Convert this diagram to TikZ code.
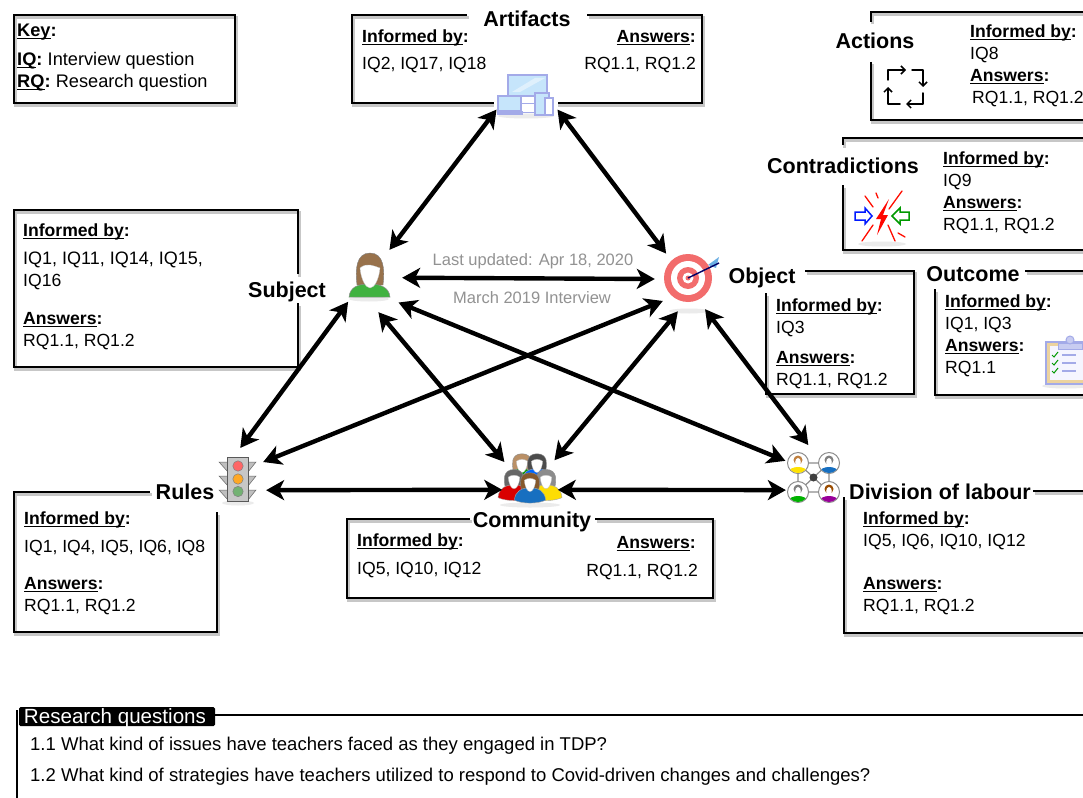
\documentclass[tikz,border=0pt]{standalone}
\usepackage{fontspec}
\setmainfont{Liberation Sans}
\usetikzlibrary{arrows.meta}
\definecolor{gtxt}{HTML}{929292}
\definecolor{devfill}{HTML}{C6E5FB}
\definecolor{devline}{HTML}{A3AAE8}
\definecolor{tgt}{HTML}{F26C6C}
\newcommand{\ub}[1]{\underline{\smash{\textbf{#1}}}}
\newcommand{\infby}{\ub{Informed by}\textbf{:}}
\newcommand{\answ}{\ub{Answers}\textbf{:}}
\newcommand{\personicon}[5]{% x y scale hair body
  \begin{scope}[shift={(#1,#2)},x=#3pt,y=-#3pt]
    \fill[#4,draw=black!45,line width=.4pt] (0,-9) .. controls (-9,-9) and (-8,0) .. (-7,4) -- (7,4) .. controls (8,0) and (9,-9) .. (0,-9) -- cycle;
    \fill[#5,draw=black!35,line width=.4pt] (-12.5,13) .. controls (-12,6) and (-7,3) .. (0,3) .. controls (7,3) and (12,6) .. (12.5,13) .. controls (6,16) and (-6,16) .. (-12.5,13) -- cycle;
    \fill[white,draw=black!25,line width=.3pt] (-4.5,-3) .. controls (-4,3) and (-2,6) .. (0,6) .. controls (2,6) and (4,3) .. (4.5,-3) .. controls (2,-5) and (-2,-5) .. (-4.5,-3) -- cycle;
  \end{scope}}
\tikzset{
  x=1pt,y=-1pt,
  boxline/.style={line width=2.6pt,line join=miter,preaction={draw=black,opacity=.22,line width=3pt,transform canvas={shift={(1.5pt,-2.5pt)}}}},
  txt/.style={anchor=west,inner sep=0pt,text height=15.6pt,text depth=2.6pt,font=\fontsize{17.6}{20}\selectfont},
  txtr/.style={txt,anchor=east},
  keytxt/.style={txt,font=\fontsize{18.2}{20}\selectfont},
  rqtxt/.style={txt,font=\fontsize{18.5}{20}\selectfont},
  ttl/.style={inner sep=0pt,font=\fontsize{21.5}{24}\selectfont\bfseries,text height=17pt,text depth=1pt},
  note/.style={inner sep=0pt,text=gtxt,font=\fontsize{16.5}{19}\selectfont},
  hub/.style={circle,inner sep=0pt,minimum size=#1,draw=none},
  link/.style={line width=4.4pt,{Stealth[length=18pt,width=20pt,inset=5pt]}-{Stealth[length=18pt,width=20pt,inset=5pt]}},
  iconline/.style={line width=1.5pt,line cap=round,line join=round},
  halo/.style={black!8}
}
\begin{document}
\begin{tikzpicture}
\useasboundingbox (0,0) rectangle (1083,797);
\fill[white] (0,0) rectangle (1083,797);

% ---- boxes
\draw[boxline] (14,15) rectangle (235,103);
\draw[boxline] (467,15) -- (352,15) -- (352,103) -- (702,103) -- (702,15) -- (587,15);
\draw[boxline] (871,22) -- (871,12) -- (1090,12);
\draw[boxline] (871,62) -- (871,120) -- (1090,120);
\draw[boxline] (843,145) -- (843,138) -- (1090,138);
\draw[boxline] (843,185) -- (843,250) -- (1090,250);
\draw[boxline] (298,274) -- (298,210) -- (14,210) -- (14,367) -- (298,367) -- (298,303);
\draw[boxline] (805,271) -- (914,271) -- (914,394) -- (766,394) -- (766,293);
\draw[boxline] (1025,271) -- (1090,271);
\draw[boxline] (935,289) -- (935,395) -- (1090,395);
\draw[boxline] (150,492) -- (14,492) -- (14,632) -- (217,632) -- (217,512);
\draw[boxline] (470,519) -- (347,519) -- (347,598) -- (713,598) -- (713,519) -- (595,519);
\draw[boxline] (844,497) -- (844,633) -- (1090,633);
\draw[boxline] (1033,491) -- (1090,491);
\draw[line width=2pt] (17,710) -- (17,800);
\draw[line width=2pt] (200,714.5) -- (1090,714.5);

% ---- key
\node[keytxt] (keyA) at (17,30) {\ub{Key}\textbf{:}};
\node[keytxt] (keyB) at (17,59) {\ub{IQ}\textbf{:}\hspace{-1.5pt} Interview question};
\node[keytxt] (keyC) at (17,81) {\ub{RQ}\textbf{:}\hspace{-1.5pt} Research question};

% ---- artifacts
\node[ttl] (tArt) at (527,19) {Artifacts};
\node[txt] (artA) at (362,36) {\infby};
\node[txt] (artB) at (362,63) {IQ2, IQ17, IQ18};
\node[txtr] (artC) at (696,36) {\answ};
\node[txtr] (artD) at (696,63) {RQ1.1, RQ1.2};

% ---- actions
\node[ttl] (tAct) at (875,41) {Actions};
\node[txt] (actA) at (970,31) {\infby};
\node[txt] (actB) at (970,53) {IQ8};
\node[txt] (actC) at (970,75) {\answ};
\node[txt] (actD) at (972,97) {RQ1.1, RQ1.2};

% ---- contradictions
\node[ttl] (tCon) at (843,165) {Contradictions};
\node[txt] (conA) at (943,158) {\infby};
\node[txt] (conB) at (943,180) {IQ9};
\node[txt] (conC) at (943,202) {\answ};
\node[txt] (conD) at (943,224) {RQ1.1, RQ1.2};

% ---- subject
\node[ttl,fill=white,inner xsep=2pt] (tSub) at (287,289) {Subject};
\node[txt] (subA) at (23,230) {\infby};
\node[txt,font=\fontsize{18}{20}\selectfont] (subB) at (23,258) {IQ1, IQ11, IQ14, IQ15,};
\node[txt] (subC) at (23,280) {IQ16};
\node[txt] (subD) at (23,318) {\answ};
\node[txt] (subE) at (23,340) {RQ1.1, RQ1.2};

% ---- object
\node[ttl] (tObj) at (762,275) {Object};
\node[txt] (objA) at (776,305) {\infby};
\node[txt] (objB) at (776,327) {IQ3};
\node[txt] (objC) at (776,357) {\answ};
\node[txt] (objD) at (776,379) {RQ1.1, RQ1.2};

% ---- outcome
\node[ttl] (tOut) at (973,273) {Outcome};
\node[txt] (outA) at (945,301) {\infby};
\node[txt] (outB) at (945,323) {IQ1, IQ3};
\node[txt] (outC) at (945,345) {\answ};
\node[txt] (outD) at (945,367) {RQ1.1};

% ---- rules
\node[ttl] (tRul) at (185,491) {Rules};
\node[txt] (rulA) at (24,518) {\infby};
\node[txt] (rulB) at (24,546) {IQ1, IQ4, IQ5, IQ6, IQ8};
\node[txt] (rulC) at (24,583) {\answ};
\node[txt] (rulD) at (24,605) {RQ1.1, RQ1.2};

% ---- community
\node[ttl] (tCom) at (532,519) {Community};
\node[txt] (comA) at (357,540) {\infby};
\node[txt] (comB) at (357,568) {IQ5, IQ10, IQ12};
\node[txtr] (comC) at (696,542) {\answ};
\node[txtr] (comD) at (698,570) {RQ1.1, RQ1.2};

% ---- division
\node[ttl] (tDiv) at (940,491) {Division of labour};
\node[txt] (divA) at (863,518) {\infby};
\node[txt] (divB) at (863,540) {IQ5, IQ6, IQ10, IQ12};
\node[txt] (divC) at (863,583) {\answ};
\node[txt] (divD) at (863,605) {RQ1.1, RQ1.2};

% ---- notes
\node[note] (noteA) at (533,261) {Last updated: Apr 18, 2020};
\node[note] (noteB) at (532,298) {March 2019 Interview};

% ---- research questions
\node[fill=black,text=white,rounded corners=1.5pt,inner sep=0pt,minimum width=196pt,minimum height=19pt,text height=15pt,text depth=2pt,font=\fontsize{20.6}{22}\selectfont] (rqT) at (117,716.5) {Research questions\hspace*{4pt}};
\node[rqtxt] (rqA) at (30,744) {1.1 What kind of issues have teachers faced as they engaged in TDP?};
\node[rqtxt] (rqB) at (30,775) {1.2 What kind of strategies have teachers utilized to respond to Covid-driven changes and challenges?};

% ---- icon: devices
\fill[white] (494,72) rectangle (558,119);
\fill[halo] (526,116) ellipse (28 and 2.5);
\draw[devline,fill=devfill,line width=1.2pt] (508,75) rectangle (547,96);
\draw[devline,fill=white,line width=1pt] (521,104) rectangle (536,113);
\draw[devline,fill=devfill,line width=1.2pt] (498,96) rectangle (521,111);
\draw[devline,fill=devline,line width=.8pt] (497,111) rectangle (522,114);
\draw[devline,fill=devfill,line width=1.2pt] (535,93) rectangle (549,115);
\draw[devline,fill=white,line width=1.2pt] (545,98) rectangle (553,115);
\fill[white,opacity=.45] (512,92) -- (535,78) -- (545,78) -- (520,92) -- cycle;

% ---- icon: woman
\fill[halo] (369,299) ellipse (20 and 2.5);
\fill[brown!70!black!85!white,draw=black!50,line width=.4pt] (370,253) .. controls (356,253) and (355,270) .. (357,285) -- (383,285) .. controls (385,270) and (384,253) .. (370,253) -- cycle;
\fill[green!60!black!75!white,draw=black!45,line width=.5pt] (349,297) .. controls (350,287) and (358,284) .. (369,284) .. controls (380,284) and (389,287) .. (390,297) -- cycle;
\fill[white,draw=black!25,line width=.3pt] (360,268) .. controls (361,280) and (366,288) .. (370,288) .. controls (374,288) and (379,280) .. (380,268) .. controls (374,266) and (367,262) .. (360,268) -- cycle;

% ---- icon: target
\fill[halo] (689,311) ellipse (20 and 2.5);
\fill[tgt] (688,278) circle (24);
\fill[white] (688,278) circle (17);
\fill[tgt] (688,278) circle (11);
\fill[white] (688,278) circle (5.5);
\fill[tgt] (688,278) circle (2.5);
\fill[cyan!70!blue!60!white] (708,265) -- (719,257) -- (716,268) -- cycle;
\draw[blue!40!black,line width=1.4pt] (688,278) -- (719,263);

% ---- icon: traffic light
\fill[halo] (238,503) ellipse (16 and 2.5);
\foreach \yy in {462,476,490}{
  \fill[black!25,draw=black!60,line width=.5pt] (228,\yy) -- (219,\yy) -- (228,\yy+10) -- cycle;
  \fill[black!25,draw=black!60,line width=.5pt] (248,\yy) -- (256,\yy) -- (248,\yy+10) -- cycle;
}
\fill[black!22,draw=black!65,line width=.8pt] (227,457) rectangle (248,501);
\fill[red!60!white,draw=black!50,line width=.5pt] (238,466) circle (5.2);
\fill[orange!80!yellow!85!white,draw=black!50,line width=.5pt] (238,479) circle (5.2);
\fill[green!45!black!55!white,draw=black!50,line width=.5pt] (238,491.5) circle (5.2);

% ---- icon: community
\fill[halo] (530,505) ellipse (30 and 2.5);
\personicon{522}{465}{1.25}{orange!55!black!60!white}{green!60!black}
\personicon{537}{465}{1.25}{black!70}{blue!60!cyan}
\personicon{514}{481}{1.28}{black!60}{red!85!black}
\personicon{546}{481}{1.28}{black!45}{yellow!80!orange}
\personicon{530}{484}{1.25}{brown!70!black}{cyan!50!blue}

% ---- icon: division of labour
\draw[black!45,line width=1.2pt] (798,463) -- (829,463) -- (829,492) -- (798,492) -- cycle (798,463) -- (829,492) (829,463) -- (798,492);
\fill[black!75] (813.5,477.5) circle (4);
\begin{scope}
\foreach \cx/\cy/\hc/\bc in {798/463/brown/yellow!85!orange,829/463/black!50/cyan!50!blue,798/492/black!50/green!70!black,829/492/orange!60!black/violet!80!magenta}{
  \draw[black!45,fill=white,line width=1pt] (\cx,\cy) circle (10.5);
  \begin{scope}
    \clip (\cx,\cy) circle (10);
    \fill[\bc] (\cx-10,\cy+10) .. controls (\cx-9,\cy+2) and (\cx+9,\cy+2) .. (\cx+10,\cy+10) -- cycle;
    \fill[\hc] (\cx,\cy-3) circle (4.5);
    \fill[white] (\cx,\cy-1) ellipse (2.8 and 4);
  \end{scope}
}
\end{scope}

% ---- icon: actions
\draw[iconline,-{Straight Barb[length=4pt,width=8pt]}] (888,80) -- (888,70) -- (906,70);
\draw[iconline,-{Straight Barb[length=4pt,width=8pt]}] (912,70) -- (923,70) -- (923,87);
\draw[iconline,-{Straight Barb[length=4pt,width=8pt]}] (923,93) -- (923,104) -- (906,104);
\draw[iconline,-{Straight Barb[length=4pt,width=8pt]}] (900,104) -- (888,104) -- (888,87);

% ---- icon: contradictions
\fill[halo] (882,244) ellipse (24 and 2.5);
\fill[red!95!orange] (889,199) -- (876,219) -- (881,219) -- (877,235) -- (888,215) -- (883,215) -- cycle;
\draw[red!90!orange,line width=1.3pt,line cap=round]
  (865,196) -- (873,207) (876,193) -- (878,198) (902,191) -- (889,209)
  (873,225) -- (862,241) (888,225) -- (895,241) (898,233) -- (905,237);
\draw[blue!90!cyan,line width=1.5pt,line join=miter,fill=white] (855,212) -- (865,212) -- (865,208) -- (872,216) -- (865,224) -- (865,220) -- (855,220) -- cycle;
\draw[green!60!black,line width=1.5pt,line join=miter,fill=white] (909,212) -- (900,212) -- (900,208) -- (892,216) -- (900,224) -- (900,220) -- (909,220) -- cycle;

% ---- icon: clipboard
\fill[halo] (1066,386) ellipse (24 and 2.5);
\draw[devline,fill=orange!35!yellow!35!brown!45!white,line width=1.2pt] (1046,342) rectangle (1090,384);
\fill[blue!4!white] (1050,346) rectangle (1090,380);
\draw[devline,fill=devline!60,line width=1pt] (1058,343) rectangle (1082,349);
\draw[devline,fill=devline!60,line width=1pt] (1070,340) circle (4);
\foreach \yy in {355,363,371}{
  \draw[green!60!black,line width=1pt] (1052,\yy) -- (1054,\yy+2) -- (1058,\yy-3);
  \draw[devline,line width=1.2pt] (1062,\yy) -- (1076,\yy);
}

% ---- hubs
\node[hub=70pt] (artifacts) at (527,92) {};
\node[hub=66pt] (subject) at (369,276) {};
\node[hub=68pt] (object) at (689,279) {};
\node[hub=62pt] (rules) at (237,479) {};
\node[hub=60pt] (community) at (530,478) {};
\node[hub=60pt] (division) at (812,475) {};

% ---- connectors
\draw[link] (artifacts.210) -- (subject.52);
\draw[link] (artifacts.330) -- (object.132.5);
\draw[link] (subject.-3.5) -- (object.180);
\draw[link] (subject.231) -- (rules.84);
\draw[link,shorten <=4.7pt] (subject.-79.5) -- (community.148);
\draw[link,shorten <=7pt] (subject.-46.6) -- (division.152.5);
\draw[link] (object.220) -- (rules.33);
\draw[link] (object.251.6) -- (community.36);
\draw[link] (object.-62.7) -- (division.97.6);
\draw[link] (rules.-21) -- (community.203.6);
\draw[link] (community.-23.6) -- (division.210);
\end{tikzpicture}
\end{document}
